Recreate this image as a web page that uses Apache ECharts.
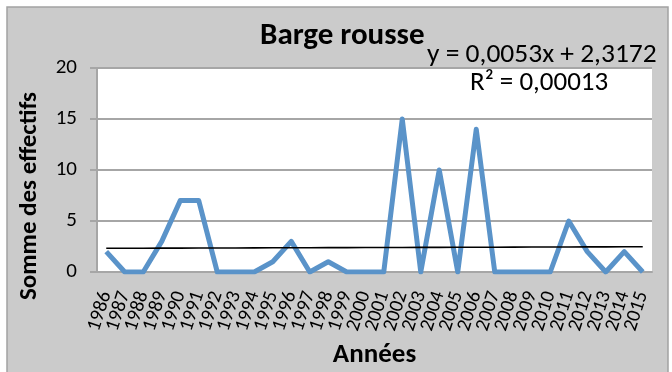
<!DOCTYPE html>
<html>
<head>
<meta charset="utf-8">
<script src="https://cdn.jsdelivr.net/npm/echarts@6/dist/echarts.min.js"></script>
<style>
  html, body { margin: 0; padding: 0; background: #ffffff; }
  #chart { width: 672px; height: 372px; }
</style>
</head>
<body>
<div id="chart"></div>
<script>
// Yearly counts of Barge rousse (bar-tailed godwit)
const years = ['1986','1987','1988','1989','1990','1991','1992','1993','1994','1995',
  '1996','1997','1998','1999','2000','2001','2002','2003','2004','2005',
  '2006','2007','2008','2009','2010','2011','2012','2013','2014','2015'];
const effectifs = [2,0,0,3,7,7,0,0,0,1,3,0,1,0,0,0,15,0,10,0,14,0,0,0,0,5,2,0,2,0];
const yTicks = [0, 5, 10, 15, 20];

// Linear trend as stated in the equation label (x = 1 for the first year)
const trendSlope = 0.0053;
const trendIntercept = 2.3172;
const trendR2 = '0,00013';
const trend = years.map((_, i) => +(trendSlope * (i + 1) + trendIntercept).toFixed(4));

const fmt = v => v.toFixed(4).replace('.', ',');
const font = 'Calibri, Carlito, "Open Sans", "Liberation Sans", sans-serif';

const chart = echarts.init(document.getElementById('chart'), null, { renderer: 'canvas' });
chart.setOption({
  animation: false,
  backgroundColor: '#ffffff',
  graphic: [
    {
      type: 'rect', z: -10,
      shape: { x: 7, y: 7, width: 661, height: 372 },
      style: { fill: '#cbcbcb', stroke: '#a3a3a3', lineWidth: 1.5 }
    },
    {
      type: 'rect', z: -5,
      shape: { x: 97, y: 68, width: 555, height: 204 },
      style: { fill: '#ffffff' }
    },
    {
      type: 'text', left: 427, top: 41,
      style: { text: 'y = ' + fmt(trendSlope) + 'x + ' + fmt(trendIntercept),
               font: '27.5px ' + font, fill: '#000' }
    },
    {
      type: 'text', left: 470, top: 70,
      style: { text: 'R² = ' + trendR2, font: '27px ' + font, fill: '#000' }
    },
    {
      // vertical axis title
      type: 'text', x: 30, y: 196, rotation: Math.PI / 2,
      style: { text: 'Somme des effectifs', font: 'bold 25px ' + font, fill: '#000',
               align: 'center', verticalAlign: 'middle' }
    }
  ],
  title: {
    text: 'Barge rousse',
    left: 255, top: 16,
    textStyle: { fontFamily: font, fontSize: 31, fontWeight: 'bold', color: '#000' }
  },
  grid: { left: 97, right: 20, top: 68, bottom: 100, outerBoundsMode: 'none', containLabel: false },
  xAxis: {
    type: 'category',
    data: years,
    boundaryGap: true,
    name: 'Années',
    nameLocation: 'middle',
    nameGap: 70,
    nameTextStyle: { fontFamily: font, fontSize: 27, fontWeight: 'bold', color: '#000' },
    axisLine: { lineStyle: { color: '#a6a6a6', width: 2 } },
    axisTick: { show: false },
    axisLabel: { interval: 0, rotate: 72, fontFamily: font, fontSize: 20, color: '#000', margin: 20 },
    splitLine: { show: false }
  },
  yAxis: {
    type: 'value',
    min: yTicks[0], max: yTicks[yTicks.length - 1], interval: 5,
    axisLine: { show: true, lineStyle: { color: '#a6a6a6', width: 2 } },
    axisTick: { show: true, inside: false, length: 7, lineStyle: { color: '#a6a6a6', width: 2 } },
    axisLabel: { fontFamily: font, fontSize: 21, color: '#000', margin: 20 },
    splitLine: { lineStyle: { color: '#a6a6a6', width: 2 } }
  },
  series: [
    {
      type: 'line',
      data: effectifs,
      symbol: 'none',
      lineStyle: { color: '#5a93c9', width: 5, join: 'round' },
      z: 3
    },
    {
      type: 'line',
      data: trend,
      symbol: 'none',
      lineStyle: { color: '#000000', width: 1.6 },
      z: 4
    }
  ]
});
</script>
</body>
</html>
